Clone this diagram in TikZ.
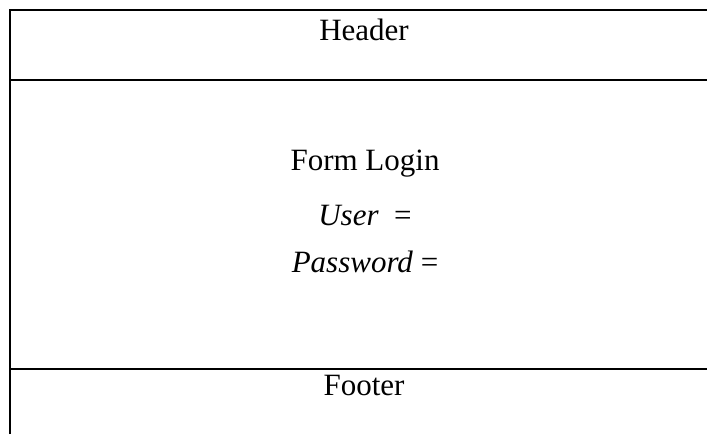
\documentclass[tikz,border=0pt]{standalone}
\usepackage{fontspec}
\setmainfont{Liberation Serif}
\begin{document}
\begin{tikzpicture}[x=1pt,y=-1pt,
  rule/.style={line width=2pt},
  label/.style={anchor=base,inner sep=0pt,font=\fontsize{31}{36}\selectfont}]
\useasboundingbox (0,0) rectangle (707,434);
% frame: left edge, top, and the two row separators
\coordinate (tl) at (10,10);
\coordinate (tr) at (707,10);
\coordinate (bl) at (10,434);
\coordinate (hl) at (10,80);
\coordinate (hr) at (707,80);
\coordinate (fl) at (10,369);
\coordinate (fr) at (707,369);
\draw[rule] (bl) -- (tl) -- (tr);
\draw[rule] (hl) -- (hr);
\draw[rule] (fl) -- (fr);
% texts
\node[label] (header) at (364,40) {Header};
\node[label] (form) at (365,170) {Form Login};
\node[label] (user) at (365,225) {\textit{User}\ \ =};
\node[label] (pass) at (365,272) {\textit{Password} =};
\node[label] (footer) at (364,395) {Footer};
\end{tikzpicture}
\end{document}
